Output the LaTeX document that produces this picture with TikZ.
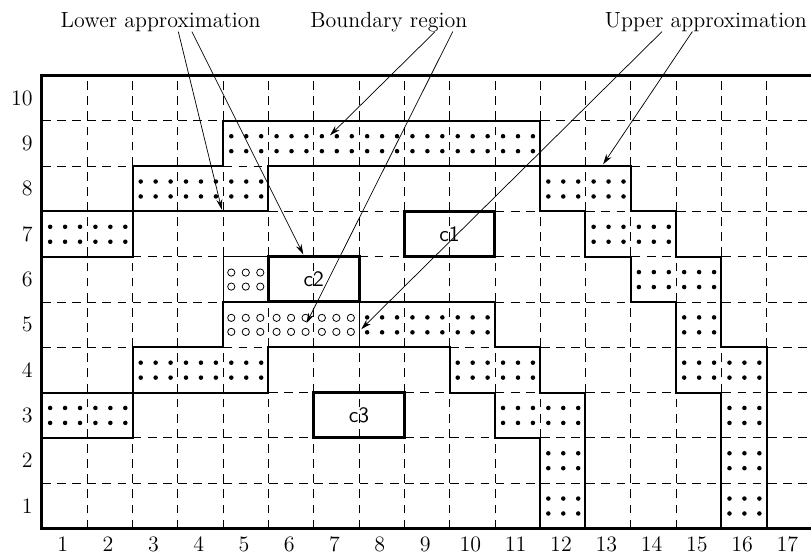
\documentclass[tikz,border=0pt]{standalone}
\usetikzlibrary{arrows.meta,calc}
\begin{document}
\begin{tikzpicture}[x=1cm,y=1cm,
  lbl/.style={font=\fontsize{13.8}{16}\selectfont},
  gridline/.style={line width=0.45pt, dash pattern=on 5.5pt off 4pt},
  framel/.style={line width=1.9pt, line join=miter},
  stair/.style={line width=1.3pt, line join=miter},
  thinl/.style={line width=0.5pt},
  cbox/.style={draw, line width=1.9pt, minimum width=2cm, minimum height=1cm, inner sep=0pt, outer sep=0pt, font=\sffamily\fontsize{13.8}{16}\selectfont},
  arr/.style={line width=0.45pt, -{Stealth[length=6.5pt,width=3.8pt]}},
  bdot/.style={fill=black},
  ocirc/.style={draw=black, line width=0.5pt},
]
\useasboundingbox (-0.927,-0.675) rectangle (16.98,11.668);

% dashed grid
\foreach \i in {1,...,16} \draw[gridline] (\i,0) -- (\i,10);
\foreach \j in {1,...,9} \draw[gridline] (0,\j) -- (17,\j);

% frame
\draw[framel] (17,10) -- (0,10) -- (0,0) -- (17,0);

% axis labels
\foreach \i in {1,...,17} \node[lbl] (cx\i) at (\i-0.54,-0.35) {\i};
\foreach \j in {1,...,10} \node[lbl, anchor=east, inner sep=0pt] (ry\j) at (-0.2,\j-0.5) {\j};

% dotted cells (boundary region)
\foreach \c/\r in {5/9,6/9,7/9,8/9,9/9,10/9,11/9,
                   3/8,4/8,5/8,12/8,13/8,
                   1/7,2/7,13/7,14/7,
                   14/6,15/6,
                   8/5,9/5,10/5,15/5,
                   3/4,4/4,5/4,10/4,11/4,15/4,16/4,
                   1/3,2/3,11/3,12/3,16/3,
                   12/2,16/2,12/1,16/1}{
  \foreach \dx in {0.18,0.51,0.84}{
    \foreach \dy in {0.33,0.66}{
      \fill[bdot] ({\c-1+\dx},{\r-1+\dy}) circle[radius=0.05];
    }
  }
}

% open-circle cells
\foreach \c/\r in {5/6,5/5,6/5,7/5}{
  \foreach \dx in {0.18,0.5,0.82}{
    \foreach \dy in {0.34,0.65}{
      \draw[ocirc] ({\c-1+\dx},{\r-1+\dy}) circle[radius=0.08];
    }
  }
}

% staircase outlines
\draw[stair] (0,7) -- (2,7) -- (2,8) -- (4,8) -- (4,9) -- (11,9) -- (11,8) -- (13,8) -- (13,7) -- (14,7) -- (14,6) -- (15,6) -- (15,4) -- (16,4) -- (16,0);
\draw[stair] (0,6) -- (2,6) -- (2,7) -- (5,7) -- (5,8) -- (11,8) -- (11,7) -- (12,7) -- (12,6) -- (13,6) -- (13,5) -- (14,5) -- (14,3) -- (15,3) -- (15,0);
\draw[stair] (0,2) -- (2,2) -- (2,3) -- (5,3) -- (5,4) -- (9,4) -- (9,3) -- (10,3) -- (10,2) -- (11,2) -- (11,0);
\draw[stair] (0,3) -- (2,3) -- (2,4) -- (4,4) -- (4,5) -- (10,5) -- (10,4) -- (11,4) -- (11,3) -- (12,3) -- (12,0);

% thin lines around the open-circle cells
\draw[thinl] (4,5) -- (4,6) -- (5,6);
\draw[thinl] (7,4) -- (7,5);

% the c boxes
\node[cbox] (c1) at (9,6.5) {c1};
\node[cbox] (c2) at (6,5.5) {c2};
\node[cbox] (c3) at (7,2.5) {c3};

% top labels
\node[lbl, anchor=base] (lowlab) at (2.62,11.06) {Lower approximation};
\node[lbl, anchor=base] (bndlab) at (7.66,11.06) {Boundary region};
\node[lbl, anchor=base] (upplab) at (14.66,11.06) {Upper approximation};

% arrow end points
\coordinate (la1) at (3.01,10.97);
\coordinate (la2) at (3.31,10.97);
\coordinate (ba1) at (8.68,10.97);
\coordinate (ba2) at (9.07,10.97);
\coordinate (ua1) at (13.69,10.97);
\coordinate (ua2) at (14.36,10.97);
\coordinate (lt1) at (3.97,7.04);
\coordinate (lt2) at (5.77,6.05);
\coordinate (bt1) at (6.36,8.68);
\coordinate (bt2) at (5.84,4.53);
\coordinate (ut1) at (7.05,4.40);
\coordinate (ut2) at (12.39,8.04);

\draw[arr] (la1) -- (lt1);
\draw[arr] (la2) -- (lt2);
\draw[arr] (ba1) -- (bt1);
\draw[arr] (ba2) -- (bt2);
\draw[arr] (ua1) -- (ut1);
\draw[arr] (ua2) -- (ut2);
\end{tikzpicture}
\end{document}
